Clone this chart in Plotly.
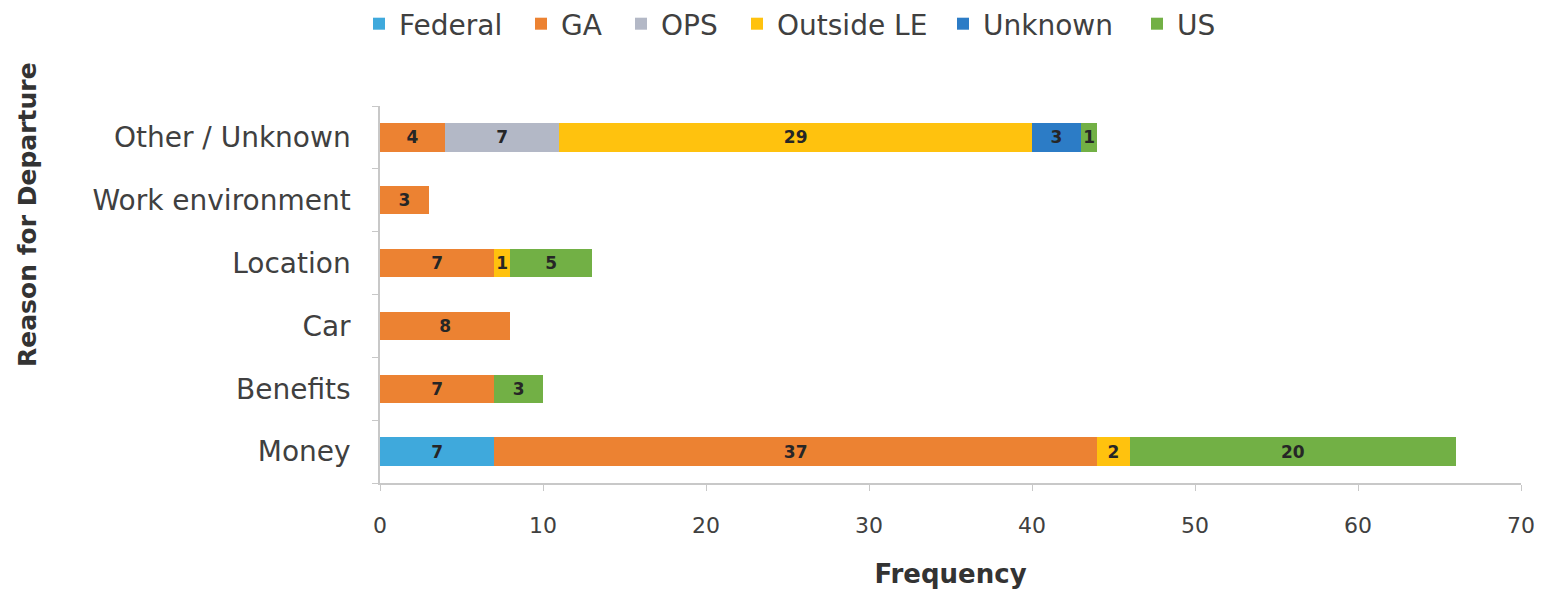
import plotly.graph_objects as go

# Reasons for departure, bottom to top
reasons = ["Money", "Benefits", "Car", "Location", "Work environment", "Other / Unknown"]

# Counts per destination group (None = no departures in that group)
federal    = [7, None, None, None, None, None]
ga         = [37, 7, 8, 7, 3, 4]
ops        = [None, None, None, None, None, 7]
outside_le = [2, None, None, 1, None, 29]
unknown    = [None, None, None, None, None, 3]
us         = [20, 3, None, 5, None, 1]

series = [
    ("Federal", federal, "#3FA9DC"),
    ("GA", ga, "#EC8232"),
    ("OPS", ops, "#B3B8C6"),
    ("Outside LE", outside_le, "#FFC20E"),
    ("Unknown", unknown, "#2C7CC6"),
    ("US", us, "#72B045"),
]

# Left edge (px) of each legend entry along the top row
legend_x_px = [359, 521, 621, 737, 943, 1137]

FONT = "'DejaVu Sans', sans-serif"
W, H = 1550, 598

fig = go.Figure()
legend_layouts = {}
for i, (name, vals, color) in enumerate(series):
    key = "legend" if i == 0 else f"legend{i + 1}"
    fig.add_trace(go.Bar(
        name=name,
        y=reasons,
        x=vals,
        orientation="h",
        marker=dict(color=color, line=dict(width=0)),
        text=[None if v is None else f"<b>{v}</b>" for v in vals],
        texttemplate="%{text}",
        textposition="inside",
        insidetextanchor="middle",
        textangle=0,
        textfont=dict(family=FONT, size=17, color="#262626"),
        width=0.45,
        legend=key,
        showlegend=True,
    ))
    legend_layouts[key] = dict(
        visible=True,
        orientation="h",
        xref="container", yref="container",
        x=legend_x_px[i] / W, y=1 - 24 / H, xanchor="left", yanchor="middle",
        font=dict(family=FONT, size=28, color="#404040"),
        itemwidth=30,
        bgcolor="rgba(0,0,0,0)",
    )

fig.update_layout(
    barmode="stack",
    width=W,
    height=H,
    showlegend=True,
    margin=dict(l=380, r=29, t=106, b=115),
    paper_bgcolor="white",
    plot_bgcolor="white",
    font=dict(family=FONT, size=24, color="#404040"),
    uniformtext=dict(mode="show", minsize=17),
    xaxis=dict(
        range=[0, 70],
        tickvals=[0, 10, 20, 30, 40, 50, 60, 70],
        showgrid=False,
        zeroline=False,
        showline=True,
        linecolor="#C8C8C8",
        linewidth=1.5,
        ticks="outside",
        ticklen=6,
        tickcolor="#C8C8C8",
        tickfont=dict(size=22, color="#404040"),
        ticklabelstandoff=16,
        title=dict(text="<b>Frequency</b>", font=dict(size=26, color="#333333"), standoff=28),
    ),
    yaxis=dict(
        categoryorder="array",
        categoryarray=reasons,
        showgrid=False,
        showline=True,
        linecolor="#C8C8C8",
        linewidth=1.5,
        ticks="outside",
        tickson="boundaries",
        ticklen=6,
        tickcolor="#C8C8C8",
        tickfont=dict(size=28, color="#404040"),
        ticklabelstandoff=22,
    ),
    annotations=[dict(
        text="<b>Reason for Departure</b>",
        textangle=-90,
        xref="paper", yref="paper",
        x=-0.3085, y=0.711,
        xanchor="center", yanchor="middle",
        showarrow=False,
        font=dict(family=FONT, size=25, color="#333333"),
    )],
    **legend_layouts,
)

fig.write_html("out.html")
